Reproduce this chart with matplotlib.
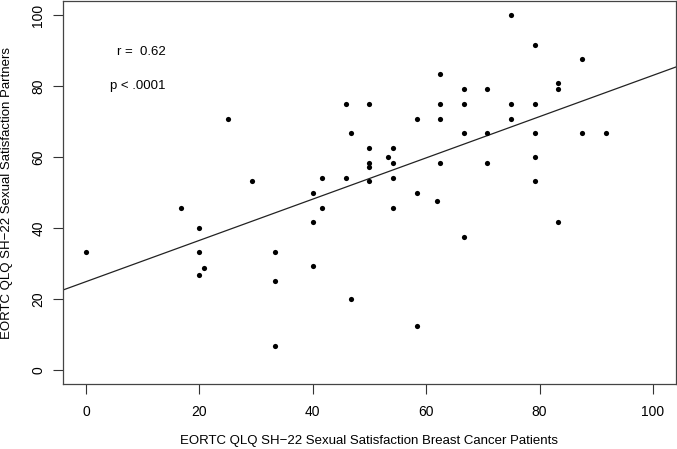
import numpy as np
import matplotlib
matplotlib.use('Agg')
import matplotlib.pyplot as plt

# patients score (x) vs partners score (y)
patients = [0, 16.7, 20, 20, 20.8, 20, 25, 29.2, 33.3, 33.3, 33.3,
            40, 40, 40, 41.7, 41.7, 45.8, 45.8, 46.7, 46.7,
            50, 50, 50, 50, 50, 53.3, 54.2, 54.2, 54.2, 54.2,
            58.3, 58.3, 58.3, 61.9, 62.5, 62.5, 62.5, 62.5,
            66.7, 66.7, 66.7, 66.7, 70.8, 70.8, 70.8,
            75, 75, 75, 79.2, 79.2, 79.2, 79.2, 79.2,
            83.3, 83.3, 83.3, 87.5, 87.5, 91.7]
partners = [33.3, 45.8, 40, 33.3, 28.7, 26.7, 70.8, 53.3, 33.3, 25, 6.7,
            50, 41.7, 29.2, 54.2, 45.8, 75, 54.2, 66.7, 20,
            75, 62.5, 58.3, 57.1, 53.3, 60, 62.5, 58.3, 54.2, 45.8,
            70.8, 50, 12.5, 47.6, 83.3, 75, 70.8, 58.3,
            79.2, 75, 66.7, 37.5, 79.2, 66.7, 58.3,
            100, 75, 70.8, 91.7, 75, 66.7, 60, 53.3,
            80.8, 79.2, 41.7, 87.5, 66.7, 66.7]

ticks = [0, 20, 40, 60, 80, 100]
r_text = 'r =  0.62'
p_text = 'p < .0001'

plt.rcParams['font.family'] = ['Liberation Sans', 'DejaVu Sans']

fig = plt.figure(figsize=(6.77, 4.49), dpi=100)
ax = fig.add_axes([0.0935, 0.1441, 0.9045, 0.8539])

ax.scatter(patients, partners, s=14, color='black', zorder=3, linewidths=0)

slope, intercept = np.polyfit(patients, partners, 1)
ax.axline((0, intercept), slope=slope, color='#222222', lw=0.9)

ax.set_xlim(-4, 104)
ax.set_ylim(-4, 104)
ax.set_xticks(ticks)
ax.set_yticks(ticks)
ax.tick_params(direction='out', length=7, width=0.8, color='#333333',
               labelsize=10)
ax.tick_params(axis='x', pad=8)
ax.tick_params(axis='y', pad=6)
for lab in ax.get_yticklabels():
    lab.set_rotation(90)
    lab.set_va('center')
for s in ax.spines.values():
    s.set_color('#444444')
    s.set_linewidth(0.9)

ax.text(14, 89.5, r_text, ha='right', va='center', fontsize=9.5)
ax.text(14, 80, p_text, ha='right', va='center', fontsize=9.5)

ax.set_xlabel('EORTC QLQ SH\u221222 Sexual Satisfaction Breast Cancer Patients', fontsize=9.5)
ax.set_ylabel('EORTC QLQ SH\u221222 Sexual Satisfaction Partners', fontsize=9.5)
ax.xaxis.set_label_coords(0.5, -0.1335)
ax.yaxis.set_label_coords(-0.082, 0.5)

fig.savefig('out.png', dpi=100)
